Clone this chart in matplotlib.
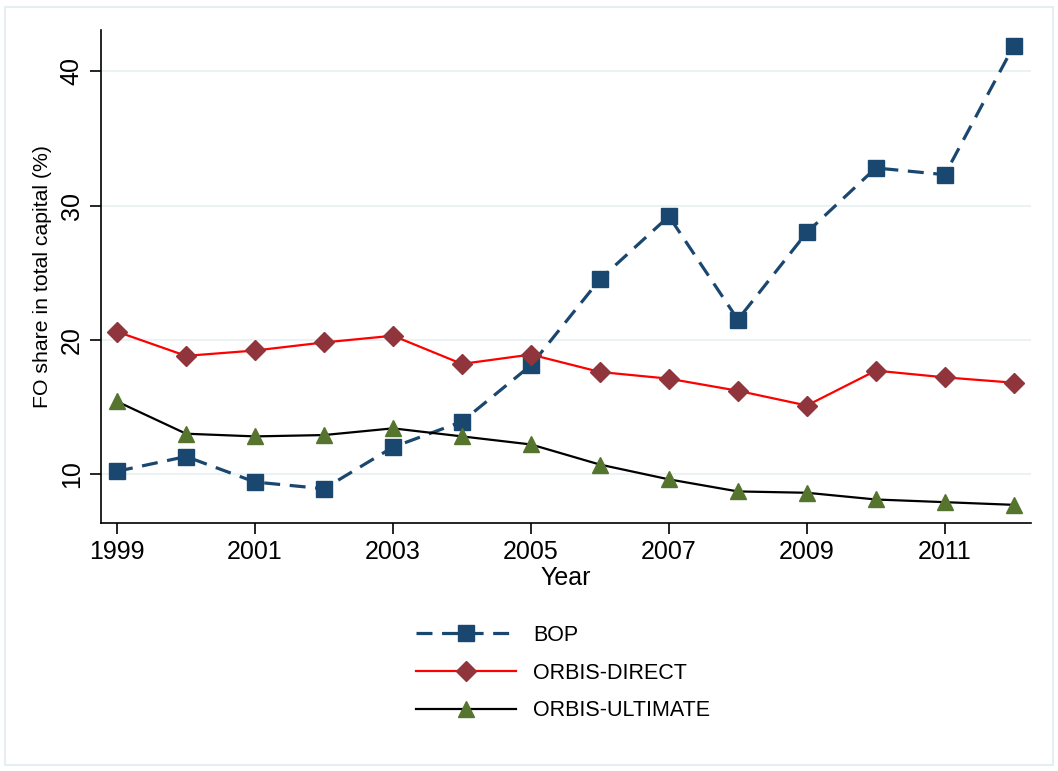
import matplotlib
matplotlib.use("Agg")
import matplotlib.pyplot as plt
from matplotlib.patches import Rectangle

years = list(range(1999, 2013))
bop = [10.2, 11.3, 9.4, 8.9, 12.0, 13.9, 18.1, 24.5, 29.2, 21.5, 28.0, 32.8, 32.3, 41.9]
orbis_direct = [20.6, 18.8, 19.2, 19.8, 20.3, 18.2, 18.9, 17.6, 17.1, 16.2, 15.1, 17.7, 17.2, 16.8]
orbis_ultimate = [15.4, 13.0, 12.8, 12.9, 13.4, 12.8, 12.2, 10.7, 9.6, 8.7, 8.6, 8.1, 7.9, 7.7]
xticks = [1999, 2001, 2003, 2005, 2007, 2009, 2011]
yticks = [10, 20, 30, 40]
labels = ["BOP", "ORBIS-DIRECT", "ORBIS-ULTIMATE"]

plt.rcParams['font.family'] = ['Liberation Sans', 'DejaVu Sans']

fig = plt.figure(figsize=(10.58, 7.71), dpi=100)
fig.patches.append(Rectangle((0.005, 0.008), 0.99, 0.983, transform=fig.transFigure,
                             fill=False, edgecolor='#e6eef2', linewidth=1.5))
ax = fig.add_axes([0.095, 0.3217, 0.8795, 0.6389])

ax.plot(years, bop, color='#1a476f', lw=2.3, dashes=(5, 3), marker='s', ms=11,
        mfc='#1a476f', mec='#1a476f', label=labels[0], zorder=3)
ax.plot(years, orbis_direct, color='#ff0000', lw=1.6, marker='D', ms=10,
        mfc='#90353b', mec='#90353b', label=labels[1], zorder=3)
ax.plot(years, orbis_ultimate, color='#000000', lw=1.6, marker='^', ms=12,
        mfc='#55752f', mec='#55752f', label=labels[2], zorder=3)

ax.set_xlim(1998.76, 2012.25)
ax.set_ylim(6.35, 43.05)
ax.set_xticks(xticks)
ax.set_yticks(yticks)
ax.set_xticklabels([str(x) for x in xticks], fontsize=18)
ax.set_yticklabels([str(y) for y in yticks], fontsize=18, rotation=90, va='center')
ax.yaxis.grid(True, color='#eaf2f3', lw=1.5)
ax.set_axisbelow(True)
for s in ['top', 'right']:
    ax.spines[s].set_visible(False)
for s in ['left', 'bottom']:
    ax.spines[s].set_linewidth(1.2)
ax.tick_params(axis='both', length=8, width=1.2, color='#000000', pad=4)
ax.set_xlabel("Year", fontsize=18, labelpad=2)
ax.set_ylabel("FO share in total capital (%)", fontsize=15.3, labelpad=6)

handles, labs = ax.get_legend_handles_labels()
fig.legend(handles, labs, loc='center', bbox_to_anchor=(0.532, 0.127), ncol=1,
           frameon=False, fontsize=15.5, handlelength=4.65, handletextpad=0.8,
           labelspacing=0.78)

fig.savefig("out.png", dpi=100, facecolor='white')
